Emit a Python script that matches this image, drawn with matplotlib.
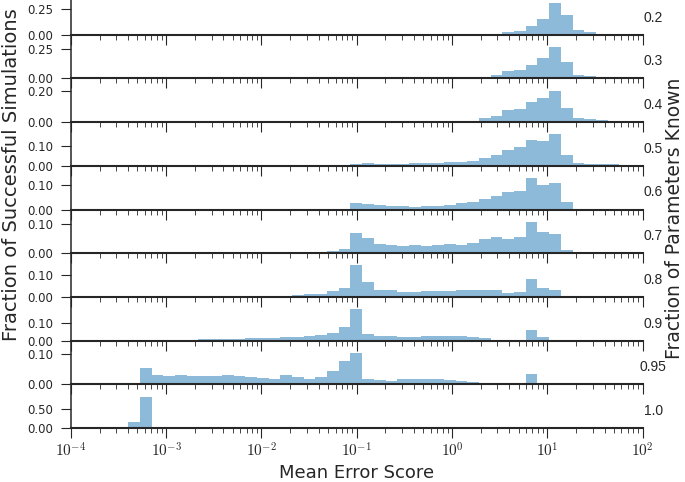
import numpy as np
import matplotlib
matplotlib.use("Agg")
import matplotlib.pyplot as plt
from matplotlib.ticker import FixedLocator, FuncFormatter, LogLocator, NullFormatter

# log10 bin edges of the histograms (44 bins between ~4e-4 and 1e2)
log_edges = np.linspace(-3.397, 2.002, 45)

fractions = ["0.2", "0.3", "0.4", "0.5", "0.6", "0.7", "0.8", "0.9", "0.95", "1.0"]
yticks = [[0, 0.25], [0, 0.25], [0, 0.2], [0, 0.1], [0, 0.1],
          [0, 0.1], [0, 0.1], [0, 0.1], [0, 0.1], [0, 0.5]]

# fraction of successful simulations in each bin (index 0..43)
h02 = [0] * 30 + [0.002, 0.003, 0.026, 0.039, 0.089, 0.158, 0.309, 0.190,
                  0.049, 0.026, 0.010, 0.006, 0.003, 0.001]
h03 = [0] * 29 + [0.002, 0.008, 0.028, 0.061, 0.074, 0.116, 0.174, 0.270,
                  0.140, 0.030, 0.019, 0.008, 0.005, 0.003, 0.001]
h04 = [0] * 26 + [0.001, 0.002, 0.004, 0.010, 0.027, 0.042, 0.079, 0.083,
                  0.131, 0.158, 0.204, 0.094, 0.027, 0.019, 0.015, 0.008,
                  0.004, 0.001]
h05 = [0] * 19 + [0.010, 0.013, 0.010, 0.008, 0.010, 0.012, 0.013, 0.013,
                  0.018, 0.020, 0.025, 0.040, 0.053, 0.081, 0.092, 0.132,
                  0.127, 0.158, 0.054, 0.015, 0.010, 0.008, 0.007, 0.003, 0.001]
h06 = [0] * 17 + [0.001, 0.004, 0.026, 0.024, 0.017, 0.014, 0.0125, 0.011,
                  0.0125, 0.015, 0.018, 0.025, 0.029, 0.043, 0.057, 0.072,
                  0.075, 0.128, 0.099, 0.107, 0.029, 0.004, 0.004, 0.003,
                  0.0015, 0.001, 0]
h07 = [0] * 14 + [0.002, 0.003, 0.005, 0.007, 0.014, 0.072, 0.054, 0.031,
                  0.028, 0.026, 0.030, 0.024, 0.027, 0.033, 0.030, 0.035,
                  0.049, 0.056, 0.051, 0.056, 0.1095, 0.075, 0.068, 0.010,
                  0.0035, 0.001] + [0] * 4
h08 = [0] * 11 + [0.001, 0.002, 0.005, 0.008, 0.012, 0.015, 0.027, 0.040,
                  0.141, 0.066, 0.032, 0.029, 0.023, 0.023, 0.0245, 0.026,
                  0.0245, 0.031, 0.031, 0.032, 0.032, 0.018, 0.021, 0.081,
                  0.040, 0.029, 0.0015] + [0] * 6
h09 = [0, 0.001, 0.002, 0.004, 0.005, 0.006, 0.008, 0.010, 0.011, 0.012,
       0.013, 0.014, 0.016, 0.020, 0.022, 0.028, 0.034, 0.045, 0.079, 0.182,
       0.037, 0.026, 0.024, 0.020, 0.020, 0.024, 0.024, 0.026, 0.024, 0.020,
       0.014, 0.006, 0.002, 0.002, 0.059, 0.020, 0.006] + [0] * 7
h095 = [0, 0.056, 0.031, 0.0275, 0.030, 0.0275, 0.0275, 0.0285, 0.030, 0.0275,
        0.023, 0.020, 0.019, 0.032, 0.025, 0.019, 0.023, 0.046, 0.077, 0.105,
        0.0165, 0.014, 0.012, 0.019, 0.0175, 0.0175, 0.0165, 0.015, 0.012,
        0.0077, 0.0033, 0.001, 0, 0, 0.035, 0.0033] + [0] * 8
h10 = [0.16, 0.84] + [0] * 42

heights = [h02, h03, h04, h05, h06, h07, h08, h09, h095, h10]

plt.rcParams['font.family'] = ['DejaVu Sans']
plt.rcParams['mathtext.fontset'] = 'cm'

edges = 10 ** log_edges
centers = 10 ** ((log_edges[:-1] + log_edges[1:]) / 2)

fig, axes = plt.subplots(10, 1, figsize=(6.85, 4.82), dpi=100)
fig.subplots_adjust(left=0.1034, right=0.938, top=1.0187, bottom=0.112, hspace=0)

dark = '#262626'
for i, ax in enumerate(axes):
    ax.set_facecolor('none')
    ax.hist(centers, bins=edges, weights=heights[i], color='C0', alpha=0.5, linewidth=0)
    ax.set_xscale('log')
    ax.set_xlim(1e-4, 1e2)
    ax.set_ylim(0, 1.39 * max(heights[i]))
    ax.yaxis.set_major_locator(FixedLocator(yticks[i]))
    ax.yaxis.set_major_formatter(FuncFormatter(lambda v, p: '%.2f' % v))
    ax.xaxis.set_major_locator(LogLocator(base=10, numticks=20))
    ax.xaxis.set_minor_locator(LogLocator(base=10, subs=np.arange(2, 10), numticks=20))
    ax.xaxis.set_minor_formatter(NullFormatter())
    for s in ['top', 'right']:
        ax.spines[s].set_visible(False)
    ax.spines['left'].set_color(dark)
    ax.spines['left'].set_linewidth(1.1)
    ax.spines['bottom'].set_color(dark)
    ax.spines['bottom'].set_linewidth(1.5)
    ax.tick_params(axis='both', which='major', length=7, width=0.8, color=dark,
                   labelsize=8.5, labelcolor=dark)
    ax.tick_params(axis='y', which='major', pad=5.5)
    ax.tick_params(axis='x', which='minor', length=3.5, width=0.6, color=dark)
    if i < len(axes) - 1:
        ax.xaxis.set_major_formatter(NullFormatter())
    else:
        ax.xaxis.set_major_formatter(FuncFormatter(lambda v, p: r'$10^{%d}$' % round(np.log10(v))))
        ax.tick_params(axis='x', which='major', labelsize=11, pad=3)
    ax.text(1.019, 0.39, fractions[i], transform=ax.transAxes, ha='center', va='center',
            fontsize=10, color=dark, family='Liberation Sans')

fig.text(0.017, 0.638, 'Fraction of Successful Simulations', rotation=90,
         ha='center', va='center', fontsize=14, color=dark)
fig.text(0.985, 0.548, 'Fraction of Parameters Known', rotation=90,
         ha='center', va='center', fontsize=13.5, color=dark)
fig.text(0.52, 0.018, 'Mean Error Score', ha='center', va='center', fontsize=13, color=dark)

fig.savefig('out.png', dpi=100)
